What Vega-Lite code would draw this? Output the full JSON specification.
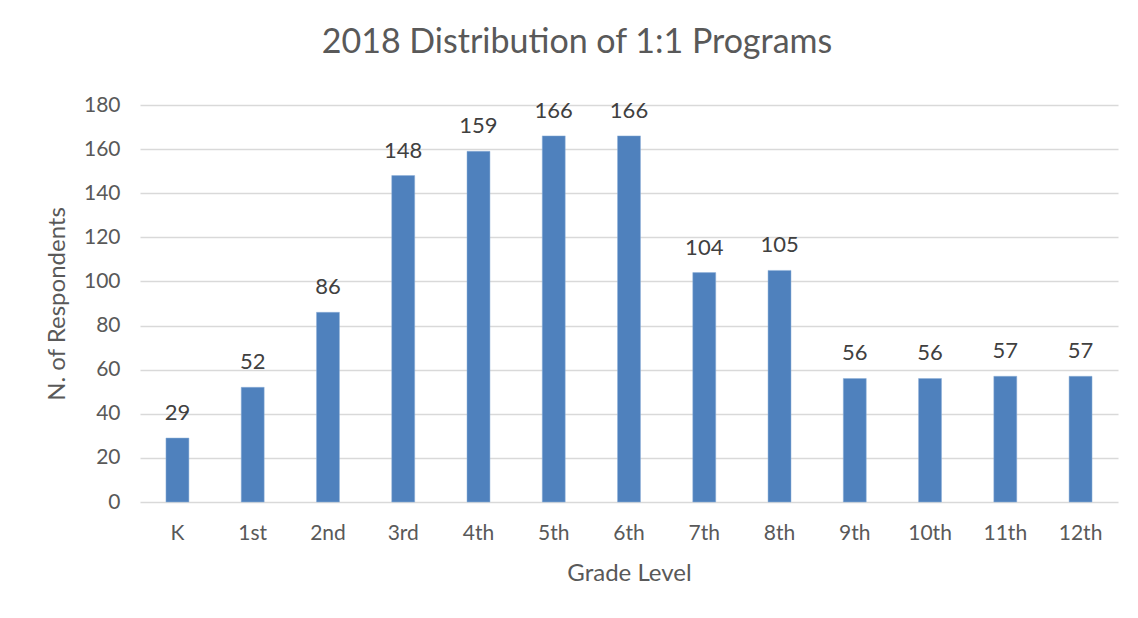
{
  "$schema": "https://vega.github.io/schema/vega-lite/v6.json",
  "autosize": {"type": "none"},
  "width": 978,
  "height": 397,
  "padding": {"left": 140, "top": 105, "right": 20, "bottom": 116},
  "background": "white",
  "config": {
    "font": "Lato",
    "view": {"stroke": null}
  },
  "title": {
    "text": "2018 Distribution of 1:1 Programs",
    "fontSize": 34,
    "fontWeight": "normal",
    "color": "#595959",
    "anchor": "middle",
    "dx": -52,
    "offset": 34
  },
  "data": {
    "values": [
      {"grade": "K", "n": 29},
      {"grade": "1st", "n": 52},
      {"grade": "2nd", "n": 86},
      {"grade": "3rd", "n": 148},
      {"grade": "4th", "n": 159},
      {"grade": "5th", "n": 166},
      {"grade": "6th", "n": 166},
      {"grade": "7th", "n": 104},
      {"grade": "8th", "n": 105},
      {"grade": "9th", "n": 56},
      {"grade": "10th", "n": 56},
      {"grade": "11th", "n": 57},
      {"grade": "12th", "n": 57}
    ]
  },
  "encoding": {
    "x": {
      "field": "grade",
      "type": "nominal",
      "sort": null,
      "scale": {"paddingInner": 0.695, "paddingOuter": 0.345},
      "axis": {
        "title": "Grade Level",
        "titleFontSize": 24,
        "titleFontWeight": "normal",
        "titleColor": "#595959",
        "titlePadding": 18,
        "labelAngle": 0,
        "labelFontSize": 21,
        "labelColor": "#595959",
        "labelPadding": 20,
        "ticks": false,
        "domain": false,
        "grid": false
      }
    },
    "y": {
      "field": "n",
      "type": "quantitative",
      "scale": {"domain": [0, 180]},
      "axis": {
        "title": "N. of Respondents",
        "titleFontSize": 24,
        "titleFontWeight": "normal",
        "titleColor": "#595959",
        "titlePadding": 14,
        "values": [0, 20, 40, 60, 80, 100, 120, 140, 160, 180],
        "labelFontSize": 21,
        "labelColor": "#595959",
        "labelPadding": 20,
        "ticks": false,
        "domain": false,
        "grid": true,
        "gridColor": "#d9d9d9",
        "gridWidth": 1.5
      }
    }
  },
  "layer": [
    {
      "mark": {"type": "bar", "color": "#4f81bd", "stroke": "#8fb0d8", "strokeWidth": 0.5}
    },
    {
      "mark": {"type": "text", "dy": -25, "fontSize": 22, "color": "#404040", "baseline": "middle"},
      "encoding": {"text": {"field": "n", "type": "quantitative"}}
    }
  ]
}
